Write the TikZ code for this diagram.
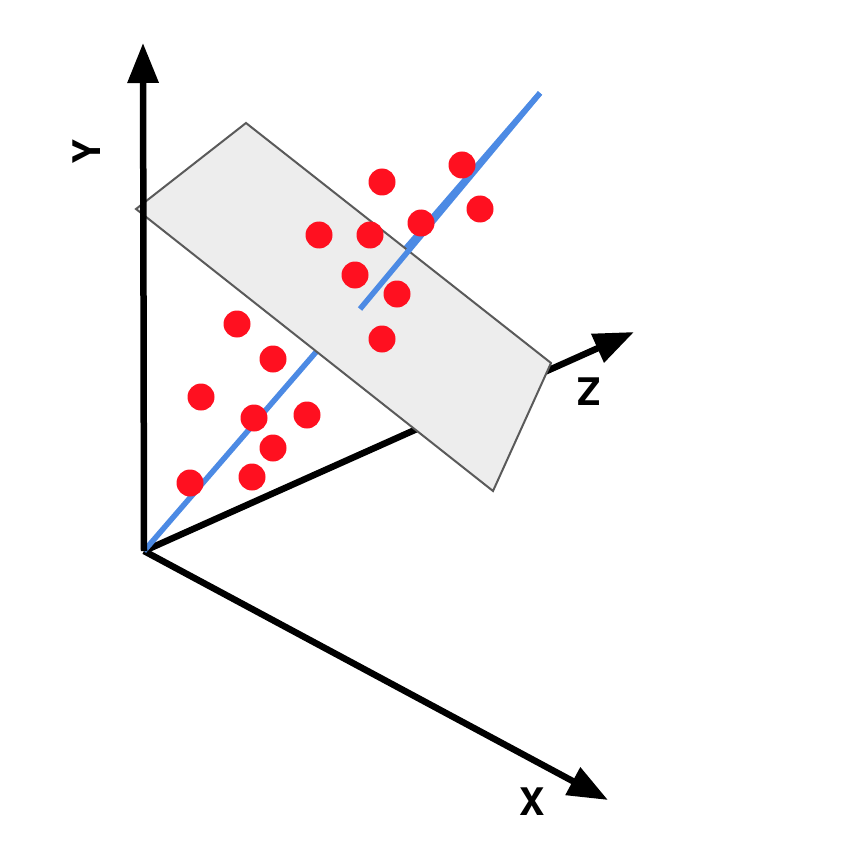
\documentclass[tikz,border=0pt]{standalone}
\usepackage{fontspec}
\setmainfont{TeX Gyre Heros}
\usetikzlibrary{arrows.meta}
\definecolor{dotred}{RGB}{255,16,32}
\definecolor{fitblue}{RGB}{76,138,228}
\definecolor{planegray}{RGB}{237,237,237}
\definecolor{planeedge}{RGB}{90,90,90}
\tikzset{
    axis/.style={
        line width=6.5pt,
        -{Triangle[length=40pt,width=30pt]}
    },
    axislabel/.style={
        font=\fontsize{38}{40}\selectfont\bfseries,
        inner sep=0pt
    },
    fitline/.style={
        draw=fitblue,
        line width=5.5pt
    },
    plane/.style={
        fill=planegray,
        draw=planeedge,
        line width=2pt,
        line join=miter
    },
    sample/.style={
        circle,
        fill=dotred,
        minimum size=27pt,
        inner sep=0pt
    }
}

\begin{document}
\begin{tikzpicture}[x=1pt,y=-1pt]
\useasboundingbox (0,0) rectangle (850,850);
\coordinate (O) at (144,551);
\coordinate (xend) at (608,800);
\coordinate (yend) at (143,43);
\coordinate (zend) at (634,332);
\coordinate (lineend) at (540,93);
\coordinate (pierce) at (360,309);
\coordinate (p1) at (136,209);
\coordinate (p2) at (246,123);
\coordinate (p3) at (551,363);
\coordinate (p4) at (493,491);
% axes behind the plane
\draw[axis] (O) -- (xend);
\draw[axis] (O) -- (zend);
\draw[fitline] (O) -- (lineend);
% plane
\draw[plane] (p1) -- (p2) -- (p3) -- (p4) -- cycle;
\draw[fitline] (pierce) -- (lineend);
\draw[axis] (O) -- (yend);
% labels
\node[axislabel] (xlabel) at (532,802) {X};
\node[axislabel, rotate=90] (ylabel) at (87,152) {Y};
\node[axislabel] (zlabel) at (589,392) {Z};
% samples
\foreach \px/\py [count=\i] in {
    382/182, 462/165, 480/209, 421/223, 319/235, 370/235, 355/275,
    397/294, 382/339, 237/324, 273/359, 201/397, 254/418, 307/415,
    273/448, 252/477, 190/483}
    \node[sample] (s\i) at (\px,\py) {};
\end{tikzpicture}
\end{document}
